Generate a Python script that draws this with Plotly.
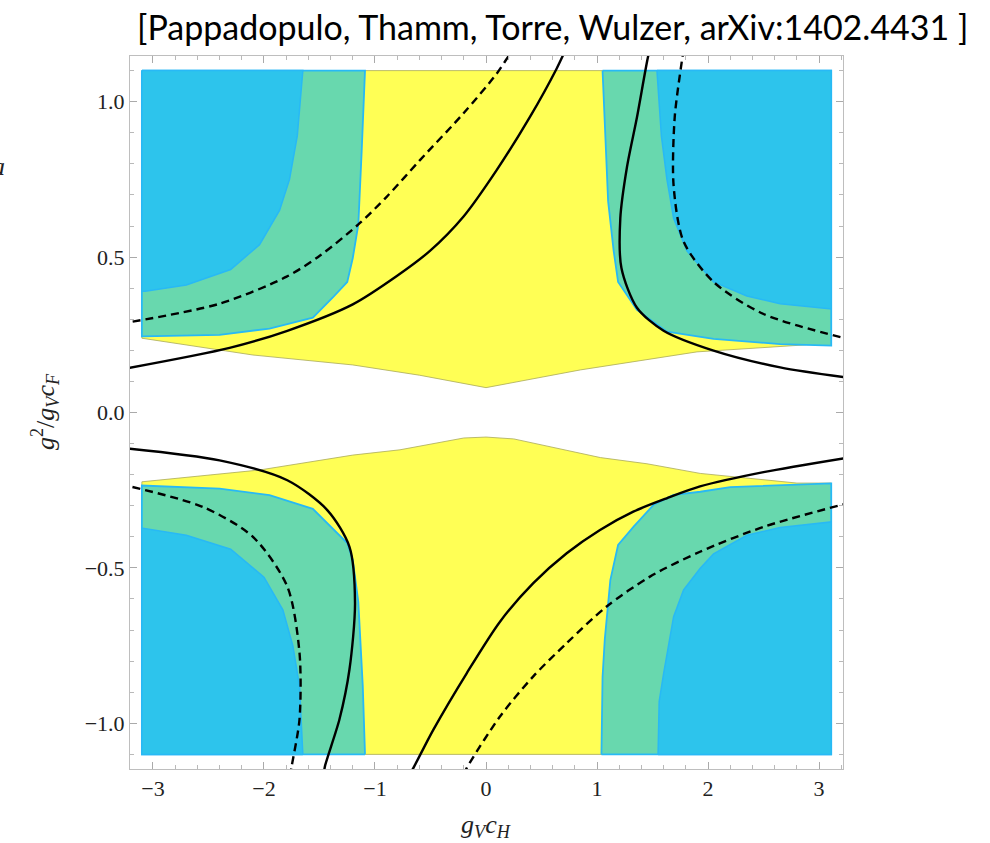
import plotly.graph_objects as go

# ---------------- data ----------------
x_tick_vals = [-3, -2, -1, 0, 1, 2, 3]
x_tick_text = ["\u22123", "\u22122", "\u22121", "0", "1", "2", "3"]
y_tick_vals = [1.0, 0.5, 0.0, -0.5, -1.0]
y_tick_text = ["1.0", "0.5", "0.0", "\u22120.5", "\u22121.0"]

# yellow regions
yellow_up_x = [-3.1, -2.1, -1.2, -0.6, 0.0, 0.85, 1.9, 3.11, 3.11, -3.1]
yellow_up_y = [0.239, 0.185, 0.153, 0.12, 0.08, 0.137, 0.195, 0.223, 1.1, 1.1]
yellow_dn_x = [-3.1, -2.04, -1.2, -0.775, -0.2, 0.0, 0.25, 1.03, 1.45, 1.93, 2.8, 3.11, 3.11, -3.1]
yellow_dn_y = [-0.223, -0.185, -0.137, -0.12, -0.082, -0.079, -0.085, -0.145, -0.165, -0.196, -0.227, -0.227, -1.1, -1.1]

# green regions
green_ul_x = [-3.1, -1.09, -1.12, -1.15, -1.2, -1.25, -1.38, -1.56, -1.95, -2.4, -3.09, -3.1]
green_ul_y = [1.1, 1.1, 0.84, 0.605, 0.497, 0.42, 0.37, 0.305, 0.27, 0.25, 0.245, 0.245]
green_ur_x = [1.05, 1.07, 1.1, 1.15, 1.19, 1.36, 1.63, 2.05, 2.65, 3.11, 3.11]
green_ur_y = [1.1, 0.95, 0.68, 0.52, 0.42, 0.33, 0.26, 0.237, 0.22, 0.215, 1.1]
green_lr_x = [1.04, 1.05, 1.07, 1.12, 1.19, 1.33, 1.51, 1.69, 1.93, 2.2, 3.11, 3.11]
green_lr_y = [-1.1, -0.85, -0.73, -0.539, -0.426, -0.367, -0.297, -0.265, -0.255, -0.24, -0.228, -1.1]
green_ll_x = [-1.09, -1.11, -1.15, -1.2, -1.25, -1.56, -1.95, -2.4, -3.1, -3.1]
green_ll_y = [-1.1, -0.88, -0.61, -0.475, -0.42, -0.31, -0.266, -0.245, -0.235, -1.1]

# blue regions
blue_ul_x = [-3.1, -1.65, -1.7, -1.77, -1.86, -2.04, -2.3, -2.7, -3.07, -3.1]
blue_ul_y = [1.1, 1.1, 0.89, 0.75, 0.65, 0.54, 0.46, 0.41, 0.39, 0.39]
blue_ur_x = [1.54, 1.58, 1.63, 1.69, 1.81, 2.05, 2.35, 2.65, 3.11, 3.11]
blue_ur_y = [1.1, 0.89, 0.75, 0.625, 0.52, 0.42, 0.375, 0.35, 0.333, 1.1]
blue_lr_x = [1.55, 1.56, 1.6, 1.69, 1.78, 1.93, 2.05, 2.35, 2.65, 3.11, 3.11]
blue_lr_y = [-1.1, -0.93, -0.84, -0.657, -0.571, -0.501, -0.455, -0.395, -0.37, -0.352, -1.1]
blue_ll_x = [-1.65, -1.68, -1.74, -1.83, -2.0, -2.3, -2.7, -3.07, -3.1, -3.1]
blue_ll_y = [-1.1, -0.88, -0.75, -0.635, -0.53, -0.44, -0.395, -0.372, -0.372, -1.1]

# black curves
solid_a_x = [-3.3, -2.31, -1.79, -1.2, -0.8, -0.505, -0.204, 0.096, 0.396, 0.637, 0.72]
solid_a_y = [0.138, 0.208, 0.263, 0.348, 0.44, 0.52, 0.63, 0.78, 0.951, 1.107, 1.17]
dash_b_x = [-3.3, -2.4, -1.796, -1.495, -1.15, -0.895, -0.595, -0.204, 0.096, 0.2, 0.23]
dash_b_y = [0.285, 0.35, 0.437, 0.505, 0.605, 0.694, 0.812, 0.962, 1.09, 1.145, 1.16]
solid_c_x = [1.48, 1.46, 1.36, 1.27, 1.21, 1.22, 1.36, 1.6, 2.05, 2.65, 3.3]
solid_c_y = [1.17, 1.145, 0.95, 0.79, 0.625, 0.465, 0.337, 0.263, 0.199, 0.145, 0.11]
dash_d_x = [1.78, 1.77, 1.7, 1.69, 1.78, 2.05, 2.5, 3.3]
dash_d_y = [1.17, 1.145, 0.95, 0.73, 0.55, 0.42, 0.317, 0.233]
solid_e_x = [-3.3, -2.4, -1.79, -1.43, -1.23, -1.18, -1.23, -1.32, -1.45, -1.46]
solid_e_y = [-0.113, -0.154, -0.218, -0.314, -0.432, -0.613, -0.827, -0.987, -1.137, -1.16]
dash_f_x = [-3.3, -2.55, -2.1, -1.79, -1.68, -1.68, -1.75, -1.76]
dash_f_y = [-0.23, -0.304, -0.4, -0.56, -0.773, -0.987, -1.137, -1.16]
solid_g_x = [-0.69, -0.655, -0.475, -0.174, 0.126, 0.426, 0.727, 1.027, 1.327, 1.628, 1.928, 2.5, 3.3]
solid_g_y = [-1.165, -1.144, -1.021, -0.839, -0.673, -0.549, -0.453, -0.378, -0.319, -0.276, -0.238, -0.192, -0.143]
dash_h_x = [-0.2, -0.174, 0.126, 0.426, 0.727, 1.087, 1.477, 1.928, 2.5, 3.3]
dash_h_y = [-1.165, -1.144, -0.978, -0.849, -0.742, -0.624, -0.528, -0.448, -0.368, -0.288]

# ---------------- styles ----------------
YELLOW = "rgb(255,255,85)"
YELLOW_EDGE = "rgb(170,170,90)"
GREEN = "rgb(104,216,174)"
BLUE = "rgb(45,196,236)"
EDGE_BLUE = "rgb(40,185,245)"

fig = go.Figure()


def region(xs, ys, fill, edge, w):
    fig.add_trace(go.Scatter(x=xs + [xs[0]], y=ys + [ys[0]], mode="lines", fill="toself",
                             fillcolor=fill, line=dict(color=edge, width=w),
                             hoverinfo="skip", showlegend=False))


region(yellow_up_x, yellow_up_y, YELLOW, YELLOW_EDGE, 0.8)
region(yellow_dn_x, yellow_dn_y, YELLOW, YELLOW_EDGE, 0.8)
for gx, gy in [(green_ul_x, green_ul_y), (green_ur_x, green_ur_y),
               (green_lr_x, green_lr_y), (green_ll_x, green_ll_y)]:
    region(gx, gy, GREEN, EDGE_BLUE, 1.8)
for bx, by in [(blue_ul_x, blue_ul_y), (blue_ur_x, blue_ur_y),
               (blue_lr_x, blue_lr_y), (blue_ll_x, blue_ll_y)]:
    region(bx, by, BLUE, EDGE_BLUE, 1.5)


def curve(xs, ys, dash):
    fig.add_trace(go.Scatter(x=xs, y=ys, mode="lines",
                             line=dict(color="black", width=2.4, dash=dash, shape="spline", smoothing=0.8),
                             hoverinfo="skip", showlegend=False))


for cx, cy in [(solid_a_x, solid_a_y), (solid_c_x, solid_c_y), (solid_e_x, solid_e_y), (solid_g_x, solid_g_y)]:
    curve(cx, cy, "solid")
for cx, cy in [(dash_b_x, dash_b_y), (dash_d_x, dash_d_y), (dash_f_x, dash_f_y), (dash_h_x, dash_h_y)]:
    curve(cx, cy, "8px,5px")

axis_common = dict(showgrid=False, zeroline=False, showline=True, linecolor="rgb(190,190,190)",
                   linewidth=1, mirror="ticks", ticks="inside", ticklen=7, tickcolor="rgb(170,170,170)",
                   tickwidth=1, tickfont=dict(family="Liberation Serif", size=22, color="#222"))

fig.update_layout(
    width=990, height=843,
    margin=dict(l=130, r=147, t=56, b=74),
    paper_bgcolor="white", plot_bgcolor="white",
    xaxis=dict(range=[-3.207, 3.216], tickvals=x_tick_vals, ticktext=x_tick_text,
               minor=dict(ticks="inside", ticklen=4, dtick=0.2, tickcolor="rgb(185,185,185)"),
               **axis_common),
    yaxis=dict(range=[-1.147, 1.147], tickvals=y_tick_vals, ticktext=y_tick_text,
               minor=dict(ticks="inside", ticklen=4, dtick=0.1, tickcolor="rgb(185,185,185)"),
               **axis_common),
    annotations=[
        dict(text="[Pappadopulo, Thamm, Torre, Wulzer, arXiv:1402.4431 ]", xref="paper", yref="paper",
             x=(552 - 130) / 713, y=1 + (56 - 26) / 713, xanchor="center", yanchor="middle",
             showarrow=False, font=dict(family="Lato", size=34, color="black")),
        dict(text="<i>g</i><sub><i>V</i></sub><i>c</i><sub><i>H</i></sub>", xref="paper", yref="paper",
             x=(486 - 130) / 713, y=-(826 - 769) / 713, xanchor="center", yanchor="middle",
             showarrow=False, font=dict(family="Liberation Serif", size=26, color="#222")),
        dict(text="<i>g</i><sup>2</sup>/<i>g</i><sub><i>V</i></sub><i>c</i><sub><i>F</i></sub>",
             xref="paper", yref="paper", textangle=-90,
             x=(45 - 130) / 713, y=(769 - 412) / 713, xanchor="center", yanchor="middle",
             showarrow=False, font=dict(family="Liberation Serif", size=26, color="#222")),
        dict(text="<i>a</i>", xref="paper", yref="paper",
             x=(7 - 130) / 713, y=(769 - 166) / 713, xanchor="right", yanchor="middle",
             showarrow=False, font=dict(family="Liberation Serif", size=26, color="#222")),
    ],
)

fig.write_html("out.html")
